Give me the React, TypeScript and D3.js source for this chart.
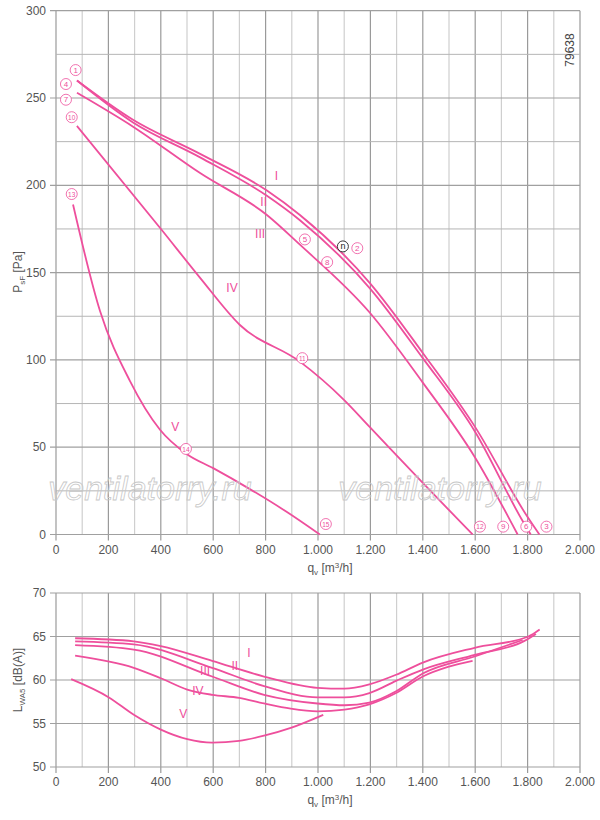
import * as d3 from "d3";

type Pt = [number, number];
const PINK = "#ee4f9c";

// pressure curves [q m3/h, Pa]
const pI: Pt[] = [[80, 260], [294, 237.5], [550, 218], [805, 197], [931, 183], [1198, 144], [1400, 104], [1600, 61.5], [1800, 10], [1845, 0]];
const pII: Pt[] = [[80, 260], [294, 236], [550, 216], [805, 194], [931, 180], [1198, 141], [1400, 101], [1600, 58.7], [1780, 8], [1812, 0]];
const pIII: Pt[] = [[80, 253], [294, 233.6], [550, 207], [805, 183], [931, 166], [1198, 127], [1400, 87], [1600, 44], [1762, 0]];
const pIV: Pt[] = [[80, 234], [406, 174], [550, 147], [702, 120], [931, 99], [1100, 77], [1198, 61.5], [1400, 29.5], [1590, 0]];
const pV: Pt[] = [[65, 189], [168, 128], [282, 88], [397, 60], [500, 46], [600, 38], [740, 26], [880, 13], [1007, 0]];
const pressureCurves = [pI, pII, pIII, pIV, pV];

// sound power curves [q m3/h, dB(A)]
const sI: Pt[] = [[73, 64.8], [297, 64.45], [400, 63.9], [596, 62.2], [794, 60.4], [998, 59.1], [1101, 59], [1196, 59.5], [1298, 60.6], [1400, 62], [1598, 63.7], [1803, 65], [1846, 65.8]];
const sII: Pt[] = [[73, 64.45], [297, 64.1], [596, 61.4], [794, 59.3], [998, 58], [1101, 58], [1196, 58.5], [1298, 59.9], [1400, 61.2], [1598, 62.9], [1788, 64.5], [1832, 65.3]];
const sIII: Pt[] = [[73, 64], [297, 63.5], [596, 60.4], [794, 58.3], [998, 57.3], [1101, 57.1], [1196, 57.4], [1298, 58.7], [1400, 60.75], [1598, 62.7], [1781, 64.6]];
const sIV: Pt[] = [[73, 62.8], [297, 61.4], [400, 60.2], [501, 58.9], [596, 58.3], [699, 57.95], [794, 57.3], [896, 56.7], [998, 56.4], [1101, 56.6], [1196, 57.2], [1298, 58.5], [1400, 60.4], [1496, 61.5], [1590, 62.2]];
const sV: Pt[] = [[58, 60.1], [202, 58], [297, 56], [400, 54.3], [501, 53.2], [596, 52.8], [699, 53], [794, 53.6], [896, 54.5], [1020, 56]];
const soundCurves = [sI, sII, sIII, sIV, sV];

const roman = ["I", "II", "III", "IV", "V"];
// label anchors in data space
const pLabelPos: Pt[] = [[835, 203], [780, 188], [760, 170], [650, 139], [440, 59]];
const sLabelPos: Pt[] = [[730, 62.6], [670, 61.2], [550, 60.6], [520, 58.3], [470, 55.6]];
const marks: { n: string; q: number; p: number }[] = [
  { n: "1", q: 75, p: 266 }, { n: "4", q: 38, p: 258 }, { n: "7", q: 38, p: 249 }, { n: "10", q: 60, p: 239 },
  { n: "13", q: 60, p: 195 }, { n: "5", q: 950, p: 169 }, { n: "2", q: 1150, p: 164 }, { n: "8", q: 1035, p: 156 },
  { n: "11", q: 940, p: 101 }, { n: "14", q: 496, p: 49 }, { n: "15", q: 1030, p: 6 }, { n: "12", q: 1618, p: 4.5 },
  { n: "9", q: 1707, p: 4.5 }, { n: "6", q: 1795, p: 4.5 }, { n: "3", q: 1872, p: 4.5 },
];
const xTicks = d3.range(0, 2001, 200);
const fmt = (v: number) => (v >= 1000 ? `${Math.floor(v / 1000)}.${String(v % 1000).padStart(3, "0")}` : `${v}`);

const L = 56, R = 580;
const x = d3.scaleLinear().domain([0, 2000]).range([L, R]);
const yTop = d3.scaleLinear().domain([0, 300]).range([534.5, 10.7]);
const yBot = d3.scaleLinear().domain([50, 70]).range([767, 593]);

function Panel({ y, yTicks, minor, curves, labels }: { y: d3.ScaleLinear<number, number>; yTicks: number[]; minor: number[]; curves: Pt[][]; labels: Pt[] }) {
  const line = d3.line<Pt>().x((d) => x(d[0])).y((d) => y(d[1])).curve(d3.curveMonotoneX);
  const [y0, y1] = y.range();
  return (
    <g>
      {d3.range(0, 2001, 100).map((v) => (
        <line key={"v" + v} x1={x(v)} x2={x(v)} y1={y0 + (v % 200 === 0 ? 6 : 0)} y2={y1} stroke={v % 200 === 0 ? "#9a9a9a" : "#cfcfcf"} strokeWidth={1.2} />
      ))}
      {minor.map((v) => (
        <line key={"m" + v} x1={L} x2={R} y1={y(v)} y2={y(v)} stroke="#b5b5b5" strokeWidth={1} />
      ))}
      {yTicks.map((v) => (
        <g key={"h" + v}>
          <line x1={L - 6} x2={R} y1={y(v)} y2={y(v)} stroke="#a0a0a0" strokeWidth={1.2} />
          <text x={L - 10} y={y(v) + 4} textAnchor="end" fontSize={12} fill="#555">{v}</text>
        </g>
      ))}
      {xTicks.map((v) => (
        <text key={"t" + v} x={x(v)} y={y0 + 19} textAnchor="middle" fontSize={12} fill="#555">{fmt(v)}</text>
      ))}
      {curves.map((c, i) => (
        <path key={"c" + i} d={line(c) ?? ""} fill="none" stroke={PINK} strokeWidth={1.8} />
      ))}
      {labels.map((p, i) => (
        <text key={"l" + i} x={x(p[0])} y={y(p[1])} fontSize={12} fill={PINK}>{roman[i]}</text>
      ))}
      <text x={(L + R) / 2 + 12} y={y0 + 37} textAnchor="middle" fontSize={12} fill="#555">
        q<tspan fontSize={8} dy={3}>v</tspan><tspan dy={-3}> [m</tspan><tspan fontSize={8} dy={-4}>3</tspan><tspan dy={4}>/h]</tspan>
      </text>
    </g>
  );
}

export default function App() {
  return (
    <svg width={600} height={820} style={{ position: "absolute", left: 0, top: 0, background: "#fff" }} fontFamily="Liberation Sans, Arial, sans-serif">
      <Panel y={yTop} yTicks={d3.range(0, 301, 50)} minor={d3.range(25, 300, 50)} curves={pressureCurves} labels={pLabelPos} />
      <Panel y={yBot} yTicks={d3.range(50, 71, 5)} minor={[]} curves={soundCurves} labels={sLabelPos} />
      <text transform="translate(22,272) rotate(-90)" textAnchor="middle" fontSize={12} fill="#555">
        P<tspan fontSize={8} dy={3}>sF</tspan><tspan dy={-3}> [Pa]</tspan>
      </text>
      <text transform="translate(22,680) rotate(-90)" textAnchor="middle" fontSize={12} fill="#555">
        L<tspan fontSize={8} dy={3}>WA5</tspan><tspan dy={-3}> [dB(A)]</tspan>
      </text>
      <text transform="translate(574,50) rotate(-90)" textAnchor="middle" fontSize={12} fill="#444">79638</text>
      {marks.map((m) => (
        <g key={m.n} transform={`translate(${x(m.q)},${yTop(m.p)})`}>
          <circle r={5.5} fill="#fff" stroke={PINK} strokeWidth={0.8} />
          <text y={2.7} textAnchor="middle" fontSize={m.n.length > 1 ? 6.5 : 8} fill={PINK}>{m.n}</text>
        </g>
      ))}
      <g transform={`translate(${x(1095)},${yTop(165)})`}>
        <circle r={5.5} fill="#fff" stroke="#222" strokeWidth={0.9} />
        <text y={3} textAnchor="middle" fontSize={9} fill="#222">n</text>
      </g>
      {[150, 440].map((cx) => (
        <text key={cx} x={cx} y={500} textAnchor="middle" fontSize={34} fontStyle="italic" fill="none" stroke="#c8c8c8" strokeWidth={0.8}>ventilatorry.ru</text>
      ))}
    </svg>
  );
}
